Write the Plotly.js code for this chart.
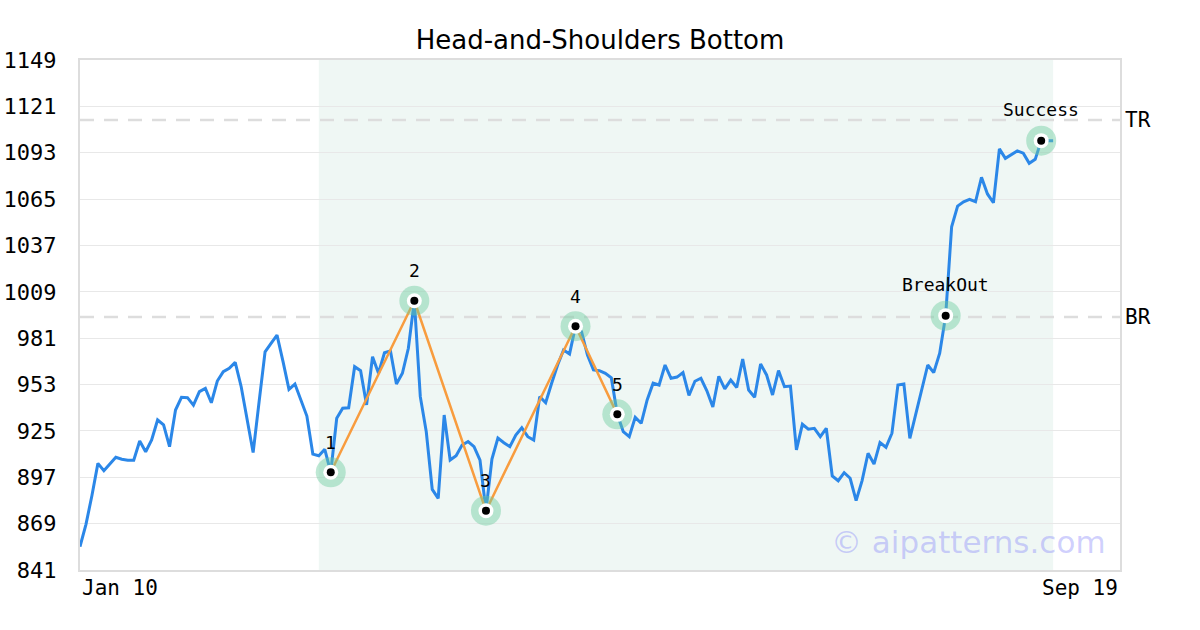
<!DOCTYPE html>
<html>
<head>
<meta charset="utf-8">
<script src="https://cdn.plot.ly/plotly-3.0.1.min.js"></script>
<style>html,body{margin:0;padding:0;background:#fff;}#chart{width:1200px;height:630px;}</style>
</head>
<body>
<div id="chart"></div>
<script>
// ---- data ----
const startLabel = "Jan 10";
const endLabel = "Sep 19";
const prices = [
  855.1, 868.6, 886, 905.4, 901, 905, 909.1, 907.9, 907.3, 907.3,
  918.9, 912.4, 919.5, 931.6, 928.6, 915.5, 937.6, 945.3, 945.1, 940.6,
  948.7, 950.7, 942.0, 955.1, 960.8, 962.8, 966.4, 951.7, 932.6, 911.9,
  942.6, 972.8, 977.9, 982.8, 967, 950.1, 953.3, 943.5, 934, 911,
  910.0, 913.9, 900.0, 932.6, 938.7, 939.0, 963.8, 961.4, 940.7, 969.8,
  959.8, 972.2, 973.3, 953.3, 959.8, 974.9, 1003.6, 945.7, 924.5, 889.7,
  884.3, 934.6, 907.4, 910.0, 916.5, 918.5, 915.5, 907.4, 876.8, 908,
  920.7, 917.9, 915.5, 922.5, 926.9, 921.5, 919.5, 945.7, 942.0, 953.8,
  964.8, 973.9, 971.5, 988.2, 985.0, 970.8, 961.8, 961.4, 959.8, 957,
  935.0, 924.5, 921.5, 933.2, 929.6, 943.7, 953.8, 952.7, 964.8, 956.8,
  957.5, 960.2, 946.4, 955, 956.8, 949.2, 939.5, 958, 950.4, 955.7,
  951.2, 968.4, 949.7, 945.3, 965.4, 958.8, 946.7, 961.4, 951.7, 952.1,
  913.5, 929.0, 926.0, 926.6, 921.5, 926.6, 897.8, 894.9, 899.8, 896.4,
  882.9, 895, 911.5, 905.0, 917.9, 915.1, 923.6, 952.7, 953.3, 920.5,
  935.6, 949.7, 964.8, 960.2, 971.9, 994.6, 1048.3, 1060.8, 1063.4, 1064.9,
  1063.4, 1078.2, 1068.1, 1062.8, 1095.3, 1089.6, 1091.6, 1094.1, 1092.7, 1086.6,
  1089.0, 1100.3, 1100.3, 1100.3
];
const patternIdx = [42, 56, 68, 83, 90];
const patternLabels = ["1", "2", "3", "4", "5"];
const eventIdx = [145, 161];
const eventLabels = ["BreakOut", "Success"];
const patternStart = 40;
const patternEnd = 163;
const levelValues = [1112.8, 993.8];
const levelLabels = ["TR", "BR"];
const yTicks = [841, 869, 897, 925, 953, 981, 1009, 1037, 1065, 1093, 1121, 1149];
const xMax = 174.2;

// ---- build ----
const xs = prices.map((_, i) => i);
const mono = "DejaVu Sans Mono";
const allIdx = patternIdx.concat(eventIdx);
const allX = allIdx;
const allY = allIdx.map(i => prices[i]);

const traces = [
  {x: xs, y: prices, mode: "lines", line: {color: "#2b87e8", width: 3}, hoverinfo: "skip"},
  {x: patternIdx, y: patternIdx.map(i => prices[i]), mode: "lines", line: {color: "#f89c3e", width: 2.5}, hoverinfo: "skip"},
  {x: allX, y: allY, mode: "markers", marker: {size: 30, color: "rgba(110,205,160,0.45)"}, hoverinfo: "skip"},
  {x: allX, y: allY, mode: "markers", marker: {size: 15, color: "#ffffff"}, hoverinfo: "skip"},
  {x: allX, y: allY, mode: "markers", marker: {size: 8, color: "#000000"}, hoverinfo: "skip"}
];

const annotations = [];
patternIdx.forEach((i, k) => annotations.push({x: i, y: prices[i], text: patternLabels[k], showarrow: false, yshift: 30, font: {family: mono, size: 18, color: "#000"}}));
eventIdx.forEach((i, k) => annotations.push({x: i, y: prices[i], text: eventLabels[k], showarrow: false, yshift: 31, font: {family: mono, size: 18, color: "#000"}}));
levelValues.forEach((v, k) => annotations.push({xref: "paper", x: 1, xanchor: "left", xshift: 3, y: v, text: levelLabels[k], showarrow: false, font: {family: mono, size: 21, color: "#000"}}));
annotations.push({xref: "paper", yref: "paper", x: 0, y: 0, xanchor: "left", yanchor: "top", yshift: -4, text: startLabel, showarrow: false, font: {family: mono, size: 21, color: "#000"}});
annotations.push({xref: "paper", yref: "paper", x: 1, y: 0, xanchor: "right", yanchor: "top", yshift: -4, text: endLabel, showarrow: false, font: {family: mono, size: 21, color: "#000"}});
annotations.push({xref: "paper", yref: "paper", x: 0.854, y: 0.055, xanchor: "center", yanchor: "middle", text: "© aipatterns.com", showarrow: false, font: {family: "DejaVu Sans", size: 31, color: "rgba(130,130,250,0.38)"}});

const shapes = [
  {type: "rect", xref: "x", yref: "paper", x0: patternStart, x1: patternEnd, y0: 0, y1: 1, fillcolor: "#eff7f4", line: {width: 0}, layer: "below"}
];
levelValues.forEach(v => shapes.push({type: "line", xref: "paper", x0: 0, x1: 1, y0: v, y1: v, line: {color: "#dddddd", width: 2.5, dash: "14px,10px"}, layer: "below"}));

const layout = {
  width: 1200, height: 630,
  margin: {l: 80, r: 80, t: 60, b: 60},
  paper_bgcolor: "#ffffff", plot_bgcolor: "#ffffff",
  showlegend: false,
  title: {text: "Head-and-Shoulders Bottom", x: 0.5, xanchor: "center", y: 0.937, yanchor: "middle", font: {family: "DejaVu Sans", size: 26, color: "#000"}},
  xaxis: {range: [0, xMax], showgrid: false, zeroline: false, showticklabels: false, ticks: "", showline: true, mirror: true, linecolor: "#dddddd", linewidth: 2},
  yaxis: {range: [841, 1149], tickvals: yTicks, ticktext: yTicks.map(String), showgrid: true, gridcolor: "#e8e8e8", gridwidth: 1, zeroline: false, ticks: "", ticklabelstandoff: 17, showline: true, mirror: true, linecolor: "#dddddd", linewidth: 2, tickfont: {family: mono, size: 22, color: "#000"}},
  annotations: annotations,
  shapes: shapes
};

Plotly.newPlot("chart", traces, layout, {displayModeBar: false, staticPlot: true});
</script>
</body>
</html>
